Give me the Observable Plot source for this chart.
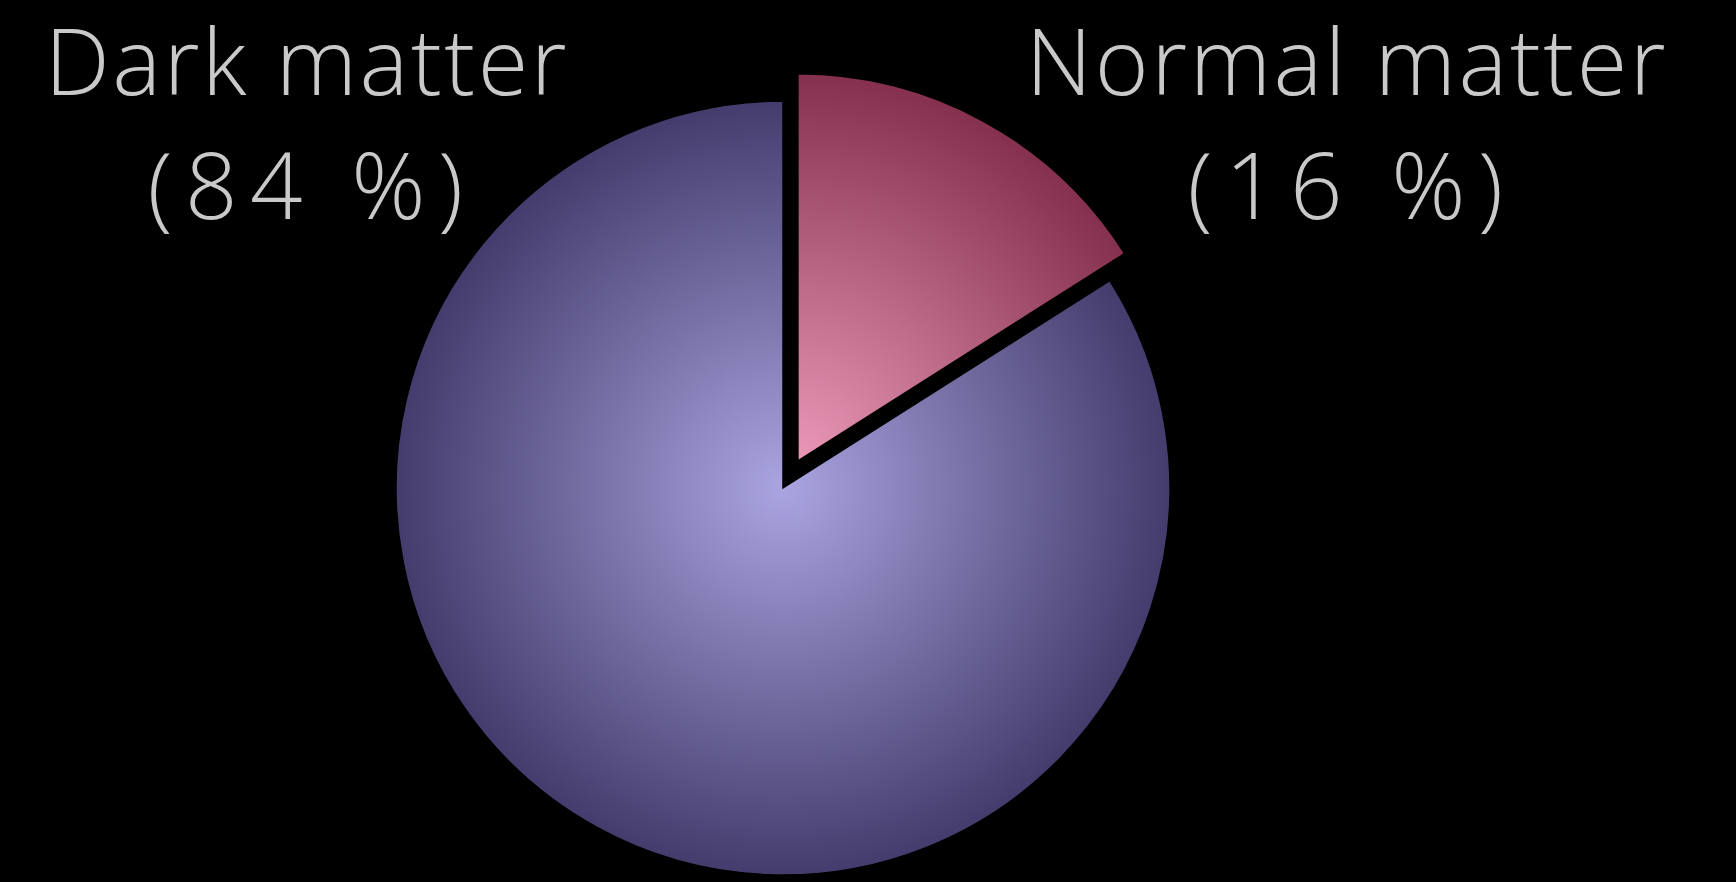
<!DOCTYPE html>
<html>
<head>
<meta charset="utf-8">
<script src="https://cdn.jsdelivr.net/npm/d3@7"></script>
<script src="https://cdn.jsdelivr.net/npm/@observablehq/plot@0.6"></script>
<style>
  html, body { margin: 0; padding: 0; background: #000; }
  #chart svg { display: block; background: #000; }
</style>
</head>
<body>
<div id="chart"></div>
<script>
// ---- data ----
const categories = ["Normal matter", "Dark matter"];
const shares = [16, 84];
const shareLabels = ["(16 %)", "(84 %)"];

// ---- style ----
const gradients = {
  "Normal matter": ["#eb98b8", "#85304f"],
  "Dark matter": ["#aaa4e0", "#443c6c"]
};
const explode = { "Normal matter": 0.08, "Dark matter": 0 };
const labelSide = { "Normal matter": { anchor: "top-right", dx: 175 }, "Dark matter": { anchor: "top-left", dx: -91 } };

const slices = categories.map((c, i) => ({ category: c, share: shares[i], shareLabel: shareLabels[i] }));

function pieMark(index, scales, values, dimensions, context) {
  const x = scales.x, y = scales.y;
  const cx = x(0), cy = y(0);
  const r = Math.abs(x(1) - x(0));
  const arcs = d3.pie().sort(null).value(d => d.share)(slices);
  const arc = d3.arc().innerRadius(0).outerRadius(r);
  const g = d3.create("svg:g");
  const defs = g.append("defs");
  arcs.forEach((a, i) => {
    const mid = (a.startAngle + a.endAngle) / 2;
    const off = explode[a.data.category] * r;
    const ox = cx + off * Math.sin(mid), oy = cy - off * Math.cos(mid);
    const id = "pie-grad-" + i;
    const grad = defs.append("radialGradient")
      .attr("id", id)
      .attr("gradientUnits", "userSpaceOnUse")
      .attr("cx", 0).attr("cy", 0).attr("r", r);
    const [c0, c1] = gradients[a.data.category];
    grad.append("stop").attr("offset", "0%").attr("stop-color", c0);
    grad.append("stop").attr("offset", "100%").attr("stop-color", c1);
    g.append("path")
      .attr("transform", `translate(${ox},${oy})`)
      .attr("d", arc(a))
      .attr("fill", `url(#${id})`)
      .attr("stroke", "#000")
      .attr("stroke-width", 1.5);
  });
  return g.node();
}

const textStyle = {
  textAnchor: "middle",
  lineAnchor: "top",
  fontSize: 92,
  fontWeight: 300,
  fontFamily: "Open Sans",
  fill: "#c9c9c9"
};

function spaced(px) {
  return (index, scales, values, dimensions, context, next) => {
    const g = next(index, scales, values, dimensions, context);
    g.setAttribute("letter-spacing", px);
    return g;
  };
}

const labelMarks = slices.flatMap(d => {
  const side = labelSide[d.category];
  return [
    Plot.text([d], { ...textStyle, text: "category", frameAnchor: side.anchor, dx: side.dx + 1.5, dy: -72, render: spaced(2.6) }),
    Plot.text([d], { ...textStyle, text: "shareLabel", frameAnchor: side.anchor, dx: side.dx + 6, dy: 52, render: spaced(12.5) })
  ];
});

const chart = Plot.plot({
  width: 1736,
  height: 882,
  marginLeft: 396,
  marginRight: 1736 - 1170,
  marginTop: 101,
  marginBottom: 882 - 875,
  style: { background: "#000", overflow: "visible" },
  x: { domain: [-1, 1], axis: null },
  y: { domain: [-1, 1], axis: null },
  marks: [pieMark, ...labelMarks]
});
document.getElementById("chart").appendChild(chart);
</script>
</body>
</html>
